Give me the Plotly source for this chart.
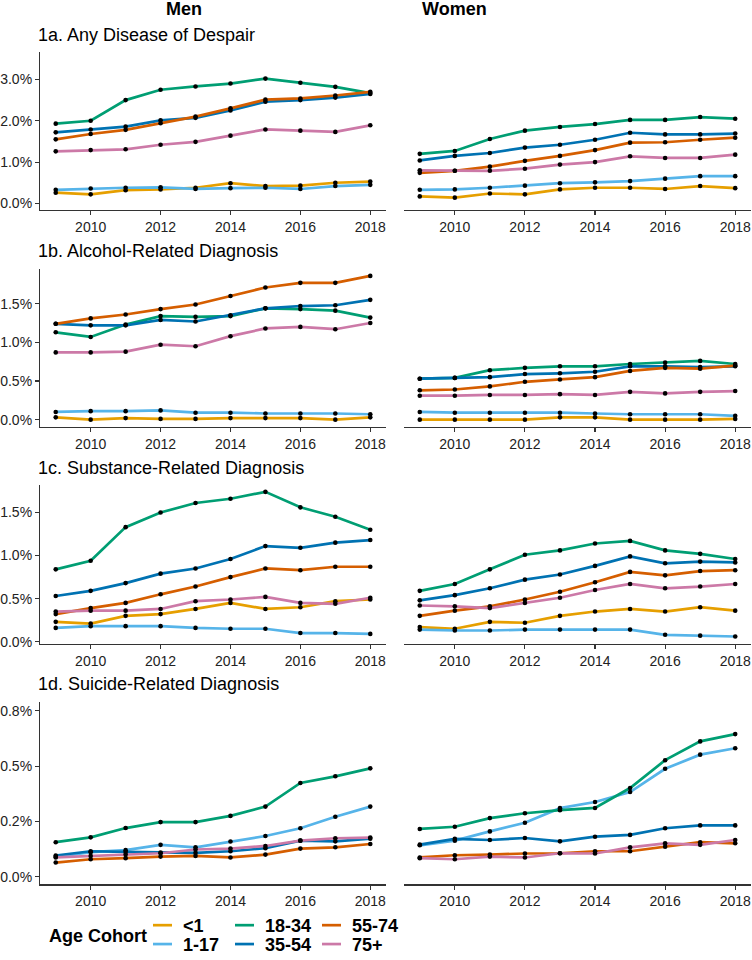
import plotly.graph_objects as go

# ---------------- data ----------------
YEARS = [2009, 2010, 2011, 2012, 2013, 2014, 2015, 2016, 2017, 2018]
COHORTS = ["<1", "1-17", "18-34", "35-54", "55-74", "75+"]
COLORS = ["#E69F00", "#56B4E9", "#009E73", "#0072B2", "#D55E00", "#CC79A7"]
PANEL_TITLES = ["1a. Any Disease of Despair", "1b. Alcohol-Related Diagnosis",
                "1c. Substance-Related Diagnosis", "1d. Suicide-Related Diagnosis"]
SEXES = ["Men", "Women"]
X_TICKS = [2010, 2012, 2014, 2016, 2018]
Y_TICKS_A = [0, 1, 2, 3]
Y_LABELS_A = ["0.0%", "1.0%", "2.0%", "3.0%"]
Y_TICKS_B = [0, 0.5, 1.0, 1.5]
Y_LABELS_B = ["0.0%", "0.5%", "1.0%", "1.5%"]
Y_TICKS_C = [0, 0.5, 1.0, 1.5]
Y_LABELS_C = ["0.0%", "0.5%", "1.0%", "1.5%"]
Y_TICKS_D = [0, 0.25, 0.5, 0.75]
Y_LABELS_D = ["0.0%", "0.2%", "0.5%", "0.8%"]

# 1a Any disease of despair (%)
A_MEN_LT1 = [0.26, 0.22, 0.32, 0.34, 0.38, 0.49, 0.42, 0.43, 0.50, 0.53]
A_MEN_1_17 = [0.33, 0.36, 0.38, 0.39, 0.35, 0.37, 0.38, 0.35, 0.42, 0.45]
A_MEN_18_34 = [1.93, 2.00, 2.50, 2.75, 2.83, 2.90, 3.02, 2.92, 2.82, 2.67]
A_MEN_35_54 = [1.72, 1.79, 1.86, 2.01, 2.07, 2.25, 2.46, 2.50, 2.56, 2.65]
A_MEN_55_74 = [1.55, 1.68, 1.78, 1.94, 2.10, 2.30, 2.51, 2.54, 2.61, 2.70]
A_MEN_75 = [1.26, 1.29, 1.31, 1.42, 1.49, 1.64, 1.79, 1.76, 1.73, 1.89]
A_WOM_LT1 = [0.17, 0.14, 0.24, 0.22, 0.34, 0.38, 0.38, 0.35, 0.42, 0.37]
A_WOM_1_17 = [0.33, 0.34, 0.38, 0.43, 0.49, 0.51, 0.54, 0.60, 0.66, 0.66]
A_WOM_18_34 = [1.20, 1.27, 1.56, 1.76, 1.85, 1.92, 2.02, 2.02, 2.09, 2.05]
A_WOM_35_54 = [1.04, 1.15, 1.22, 1.35, 1.42, 1.54, 1.71, 1.67, 1.67, 1.69]
A_WOM_55_74 = [0.74, 0.79, 0.89, 1.03, 1.15, 1.29, 1.47, 1.48, 1.54, 1.59]
A_WOM_75 = [0.80, 0.79, 0.79, 0.84, 0.94, 1.00, 1.14, 1.10, 1.10, 1.18]

# 1b Alcohol-related (%)
B_MEN_LT1 = [0.03, 0.00, 0.02, 0.01, 0.01, 0.02, 0.02, 0.02, 0.00, 0.03]
B_MEN_1_17 = [0.10, 0.11, 0.11, 0.12, 0.09, 0.09, 0.08, 0.08, 0.08, 0.07]
B_MEN_18_34 = [1.13, 1.07, 1.23, 1.34, 1.33, 1.34, 1.44, 1.43, 1.41, 1.32]
B_MEN_35_54 = [1.24, 1.22, 1.22, 1.29, 1.27, 1.35, 1.44, 1.47, 1.48, 1.55]
B_MEN_55_74 = [1.24, 1.31, 1.36, 1.43, 1.49, 1.60, 1.71, 1.77, 1.77, 1.86]
B_MEN_75 = [0.87, 0.87, 0.88, 0.97, 0.95, 1.08, 1.18, 1.20, 1.17, 1.25]
B_WOM_LT1 = [0.00, 0.00, 0.00, 0.00, 0.03, 0.03, 0.00, 0.00, 0.00, 0.01]
B_WOM_1_17 = [0.10, 0.09, 0.09, 0.09, 0.09, 0.08, 0.07, 0.07, 0.07, 0.05]
B_WOM_18_34 = [0.53, 0.54, 0.64, 0.67, 0.69, 0.69, 0.72, 0.74, 0.76, 0.72]
B_WOM_35_54 = [0.53, 0.54, 0.55, 0.59, 0.60, 0.62, 0.69, 0.69, 0.68, 0.69]
B_WOM_55_74 = [0.38, 0.39, 0.43, 0.49, 0.52, 0.55, 0.63, 0.67, 0.66, 0.70]
B_WOM_75 = [0.31, 0.31, 0.32, 0.32, 0.33, 0.32, 0.36, 0.34, 0.36, 0.37]

# 1c Substance-related (%)
C_MEN_LT1 = [0.23, 0.21, 0.30, 0.32, 0.38, 0.45, 0.38, 0.40, 0.47, 0.49]
C_MEN_1_17 = [0.16, 0.18, 0.18, 0.18, 0.16, 0.15, 0.15, 0.10, 0.10, 0.09]
C_MEN_18_34 = [0.84, 0.94, 1.33, 1.50, 1.61, 1.66, 1.74, 1.56, 1.45, 1.30]
C_MEN_35_54 = [0.53, 0.59, 0.68, 0.79, 0.85, 0.96, 1.11, 1.09, 1.15, 1.18]
C_MEN_55_74 = [0.32, 0.39, 0.45, 0.55, 0.64, 0.75, 0.85, 0.83, 0.87, 0.87]
C_MEN_75 = [0.35, 0.36, 0.36, 0.38, 0.47, 0.49, 0.52, 0.45, 0.44, 0.51]
C_WOM_LT1 = [0.17, 0.15, 0.23, 0.22, 0.30, 0.35, 0.38, 0.35, 0.40, 0.36]
C_WOM_1_17 = [0.14, 0.13, 0.13, 0.14, 0.14, 0.14, 0.14, 0.08, 0.07, 0.06]
C_WOM_18_34 = [0.59, 0.67, 0.84, 1.01, 1.06, 1.14, 1.17, 1.06, 1.02, 0.96]
C_WOM_35_54 = [0.48, 0.54, 0.62, 0.72, 0.78, 0.88, 0.99, 0.91, 0.93, 0.92]
C_WOM_55_74 = [0.30, 0.36, 0.41, 0.49, 0.58, 0.69, 0.81, 0.77, 0.82, 0.83]
C_WOM_75 = [0.42, 0.41, 0.39, 0.45, 0.51, 0.60, 0.67, 0.62, 0.64, 0.67]

# 1d Suicide-related (%), no <1 series
D_MEN_LT1 = None
D_MEN_1_17 = [0.090, 0.111, 0.120, 0.144, 0.133, 0.159, 0.184, 0.219, 0.271, 0.317]
D_MEN_18_34 = [0.156, 0.178, 0.220, 0.247, 0.247, 0.275, 0.317, 0.424, 0.454, 0.490]
D_MEN_35_54 = [0.096, 0.115, 0.112, 0.109, 0.108, 0.115, 0.129, 0.163, 0.160, 0.172]
D_MEN_55_74 = [0.064, 0.079, 0.084, 0.091, 0.094, 0.087, 0.100, 0.127, 0.133, 0.148]
D_MEN_75 = [0.087, 0.094, 0.100, 0.106, 0.123, 0.127, 0.139, 0.163, 0.174, 0.177]
D_WOM_LT1 = None
D_WOM_1_17 = [0.142, 0.163, 0.205, 0.244, 0.310, 0.338, 0.383, 0.488, 0.552, 0.581]
D_WOM_18_34 = [0.216, 0.226, 0.265, 0.287, 0.301, 0.311, 0.401, 0.527, 0.612, 0.645]
D_WOM_35_54 = [0.145, 0.171, 0.166, 0.175, 0.160, 0.181, 0.189, 0.219, 0.232, 0.232]
D_WOM_55_74 = [0.087, 0.097, 0.100, 0.105, 0.106, 0.115, 0.115, 0.136, 0.156, 0.151]
D_WOM_75 = [0.084, 0.079, 0.091, 0.087, 0.106, 0.105, 0.133, 0.151, 0.144, 0.166]

PANELS = [
    ([A_MEN_LT1, A_MEN_1_17, A_MEN_18_34, A_MEN_35_54, A_MEN_55_74, A_MEN_75],
     [A_WOM_LT1, A_WOM_1_17, A_WOM_18_34, A_WOM_35_54, A_WOM_55_74, A_WOM_75]),
    ([B_MEN_LT1, B_MEN_1_17, B_MEN_18_34, B_MEN_35_54, B_MEN_55_74, B_MEN_75],
     [B_WOM_LT1, B_WOM_1_17, B_WOM_18_34, B_WOM_35_54, B_WOM_55_74, B_WOM_75]),
    ([C_MEN_LT1, C_MEN_1_17, C_MEN_18_34, C_MEN_35_54, C_MEN_55_74, C_MEN_75],
     [C_WOM_LT1, C_WOM_1_17, C_WOM_18_34, C_WOM_35_54, C_WOM_55_74, C_WOM_75]),
    ([D_MEN_LT1, D_MEN_1_17, D_MEN_18_34, D_MEN_35_54, D_MEN_55_74, D_MEN_75],
     [D_WOM_LT1, D_WOM_1_17, D_WOM_18_34, D_WOM_35_54, D_WOM_55_74, D_WOM_75]),
]
Y_TICKS = [(Y_TICKS_A, Y_LABELS_A), (Y_TICKS_B, Y_LABELS_B),
           (Y_TICKS_C, Y_LABELS_C), (Y_TICKS_D, Y_LABELS_D)]

# ---------------- layout geometry (pixels) ----------------
W, H = 752, 960
FONT = "Liberation Sans, Arial, Helvetica, sans-serif"
X_DOM_PX = [(40, 386), (404, 751)]
Y_DOM_PX = [(52.7, 211), (271, 429.3), (488, 647.7), (706, 890)]
Y_RANGES = [(-0.151, 3.654), (-0.09, 1.945), (-0.023, 1.82), (-0.035, 0.792)]
X_RANGE = (2008.55, 2018.45)
TITLE_Y_PX = [34, 252, 470, 687]


def px(x):
    return x / W


def py(y):
    return 1 - y / H


fig = go.Figure()
layout = dict(width=W, height=H, margin=dict(l=0, r=0, t=0, b=0),
              paper_bgcolor="white", plot_bgcolor="rgba(0,0,0,0)", showlegend=False,
              font=dict(family=FONT, color="#222"))

AXIS_COLOR = "#333333"
shapes = []
n = 0
for r, (panel, (yt, yl)) in enumerate(zip(PANELS, Y_TICKS)):
    for c, series in enumerate(panel):
        n += 1
        xa = "x" if n == 1 else f"x{n}"
        ya = "y" if n == 1 else f"y{n}"
        # lines first, then points on top
        for k, vals in enumerate(series):
            if vals is None:
                continue
            fig.add_trace(go.Scatter(x=YEARS, y=vals, mode="lines", xaxis=xa, yaxis=ya,
                                     line=dict(color=COLORS[k], width=2.7),
                                     name=COHORTS[k], hoverinfo="skip"))
        for k, vals in enumerate(series):
            if vals is None:
                continue
            fig.add_trace(go.Scatter(x=YEARS, y=vals, mode="markers", xaxis=xa, yaxis=ya,
                                     marker=dict(color="black", size=4.6),
                                     name=COHORTS[k], hoverinfo="skip"))
        xd = X_DOM_PX[c]
        yd = Y_DOM_PX[r]
        layout["xaxis" if n == 1 else f"xaxis{n}"] = dict(
            domain=[px(xd[0]), px(xd[1])], range=list(X_RANGE), anchor=ya,
            tickvals=X_TICKS, ticktext=[str(t) for t in X_TICKS],
            showline=True, linecolor=AXIS_COLOR, linewidth=1.1,
            ticks="outside", ticklen=4, tickcolor=AXIS_COLOR, tickwidth=1.1,
            showgrid=False, zeroline=False, mirror=False,
            tickfont=dict(size=14, color="#222", family=FONT))
        yaxis = dict(domain=[py(yd[1]), py(yd[0])], range=list(Y_RANGES[r]),
                     showgrid=False, zeroline=False, mirror=False)
        if c == 0:
            yaxis.update(anchor=xa, tickvals=yt, ticktext=yl, showline=True, linecolor=AXIS_COLOR,
                         linewidth=1.1, ticks="outside", ticklen=4, tickcolor=AXIS_COLOR,
                         tickwidth=1.1, tickfont=dict(size=14, color="#222", family=FONT))
        else:
            yaxis.update(anchor="free", position=1.0, visible=False, showline=False,
                         showticklabels=False, ticks="")
        layout["yaxis" if n == 1 else f"yaxis{n}"] = yaxis

annotations = []
# column headers
annotations.append(dict(text="<b>Men</b>", x=px(184), y=py(9), xref="paper", yref="paper",
                        showarrow=False, xanchor="center", yanchor="middle",
                        font=dict(size=18, color="black", family=FONT)))
annotations.append(dict(text="<b>Women</b>", x=px(455), y=py(9), xref="paper", yref="paper",
                        showarrow=False, xanchor="center", yanchor="middle",
                        font=dict(size=18, color="black", family=FONT)))
for r, t in enumerate(PANEL_TITLES):
    annotations.append(dict(text=t, x=px(36), y=py(TITLE_Y_PX[r] + 1), xref="paper", yref="paper",
                            showarrow=False, xanchor="left", yanchor="middle",
                            font=dict(size=18, color="black", family=FONT)))

# manual legend (column-major, 2 rows)
annotations.append(dict(text="<b>Age Cohort</b>", x=px(47), y=py(942), xref="paper", yref="paper",
                        showarrow=False, xanchor="left", yanchor="middle",
                        font=dict(size=18, color="black", family=FONT)))
LEG_COL_X = [153, 235, 322]
LEG_ROW_Y = [931, 950]
for k, name in enumerate(COHORTS):
    col, row = k // 2, k % 2
    x0 = LEG_COL_X[col]
    yy = LEG_ROW_Y[row]
    shapes.append(dict(type="line", xref="paper", yref="paper",
                       x0=px(x0), x1=px(x0 + 19), y0=py(yy), y1=py(yy),
                       line=dict(color=COLORS[k], width=2.7)))
    annotations.append(dict(text=f"<b>{name}</b>", x=px(x0 + 28), y=py(yy + 1), xref="paper",
                            yref="paper", showarrow=False, xanchor="left", yanchor="middle",
                            font=dict(size=18, color="black", family=FONT)))

layout["annotations"] = annotations
layout["shapes"] = shapes
fig.update_layout(**layout)
fig.write_html(
    "out.html",
    config={"displayModeBar": False, "staticPlot": True},
    post_script=(
        "document.documentElement.style.margin='0px';"
        "document.documentElement.style.overflow='hidden';"
        "document.body.style.margin='0px';"
        "document.body.style.overflow='hidden';"
    ),
)
